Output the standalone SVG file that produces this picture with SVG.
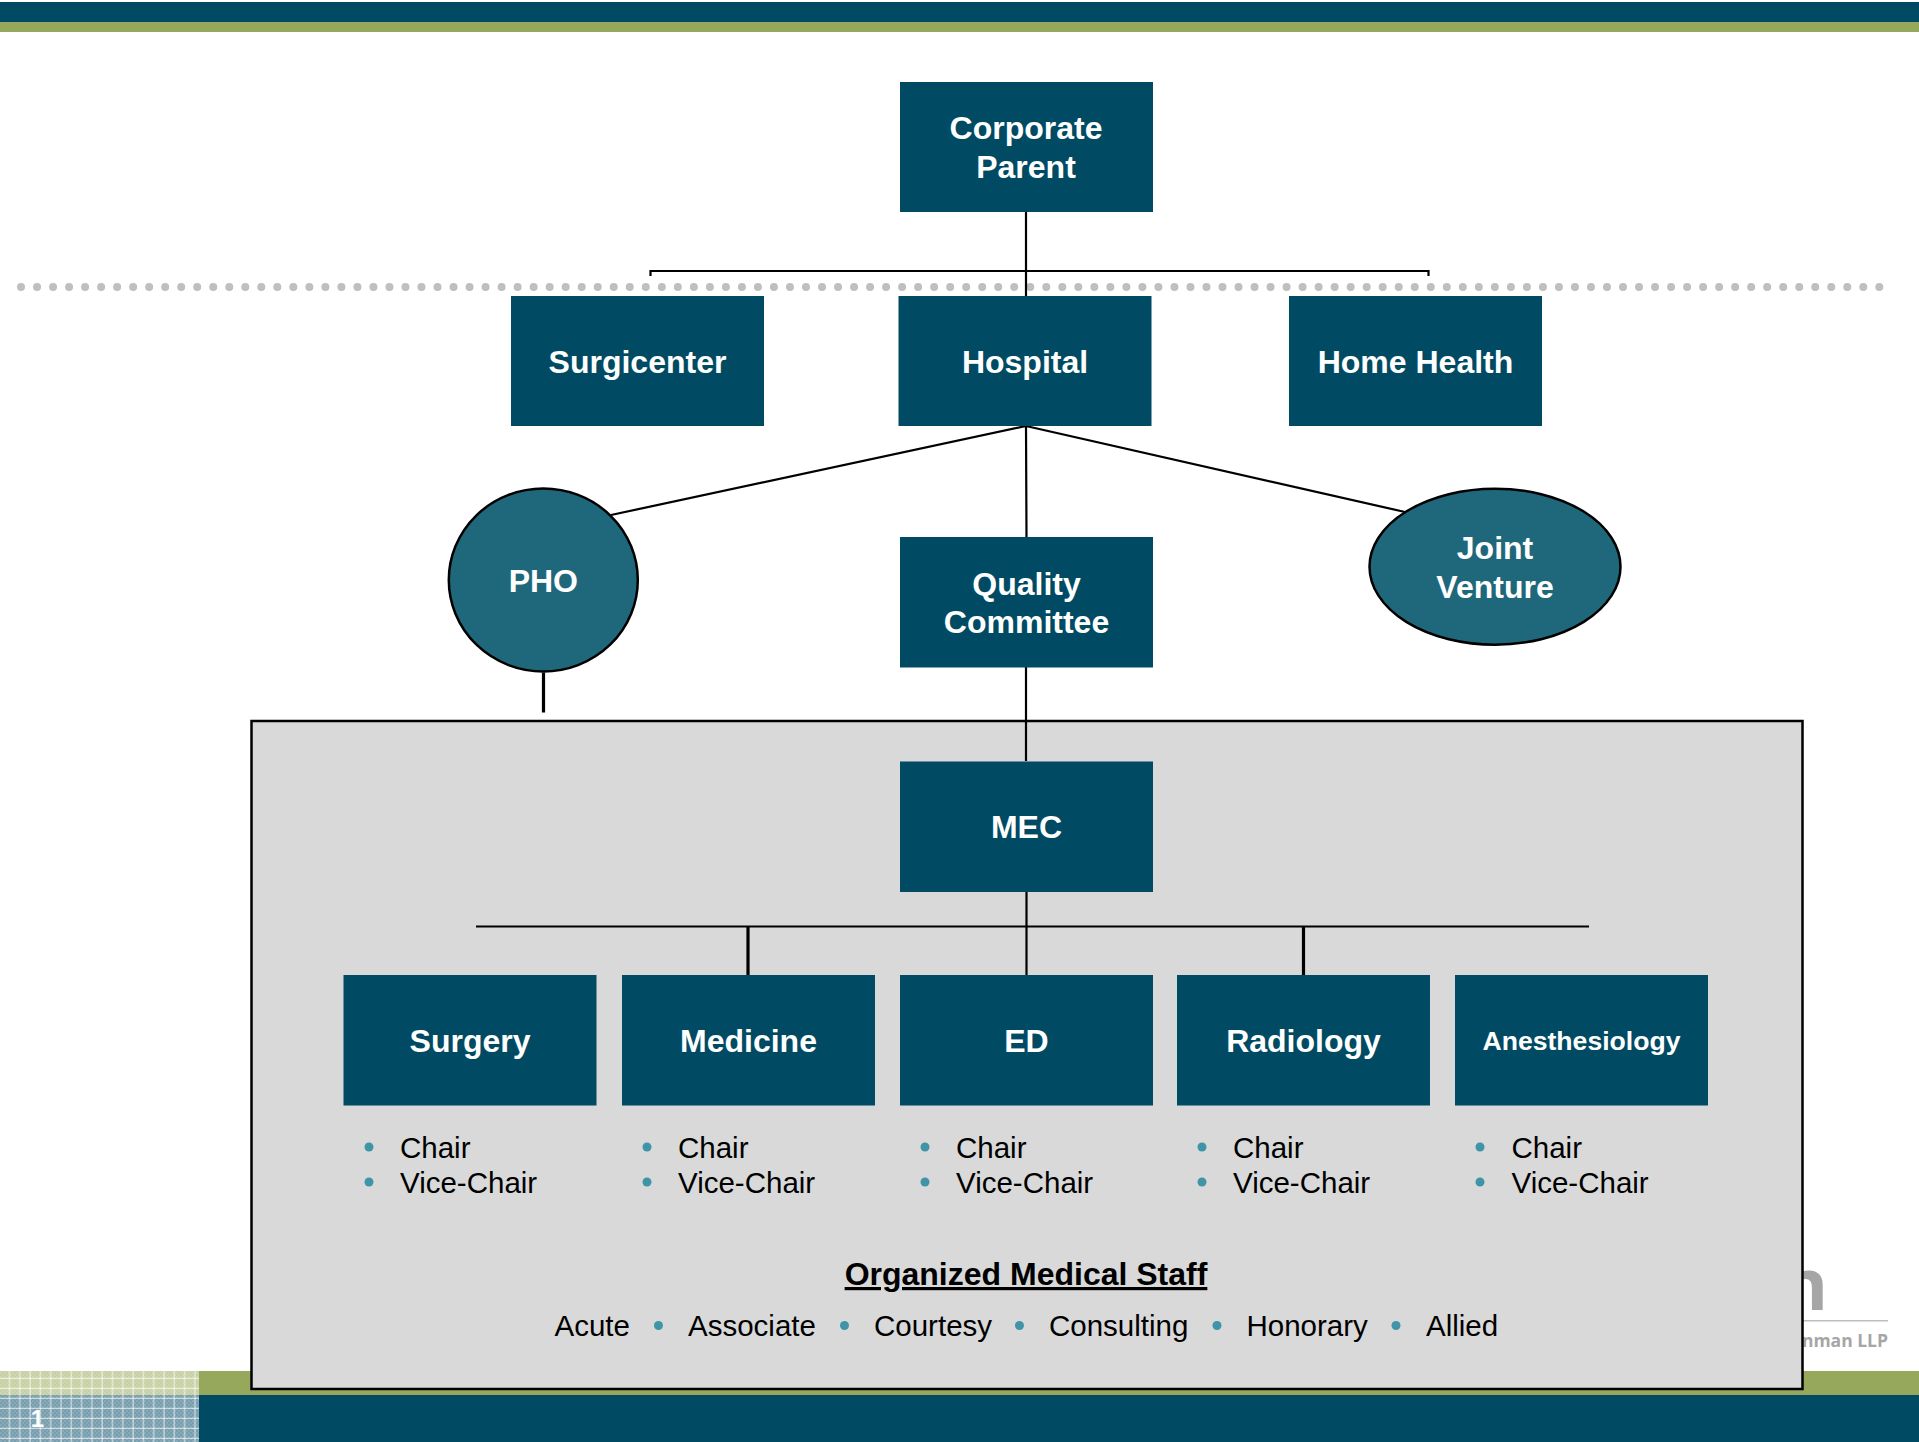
<svg xmlns="http://www.w3.org/2000/svg" width="1919" height="1442" viewBox="0 0 1919 1442">
<defs>
<style>
.n{fill:#004b63}
.o{fill:#1f687c;stroke:#000;stroke-width:2.500px}
.t{font-family:"Liberation Sans",Arial,sans-serif;font-weight:700;font-size:32px;fill:#fff;text-anchor:middle}
.l{font-family:"Liberation Sans",Arial,sans-serif;font-size:29.500px;fill:#000}
.b{fill:#3f94a8}
.c{stroke:#000;stroke-width:2.200px;fill:none}
.s{stroke-width:3.200px}
</style>
<pattern id="grid" width="10.3" height="10" patternUnits="userSpaceOnUse" x="0" y="1369">
<rect x="9" y="0" width="1" height="10" fill="#fff" fill-opacity=".75"/>
<rect x="0" y="8.800" width="10.300" height="1" fill="#fff" fill-opacity=".75"/>
</pattern>
<pattern id="dither" width="4" height="4" patternUnits="userSpaceOnUse">
<rect width="2" height="2" fill="#fff" fill-opacity=".12"/>
<rect x="2" y="2" width="2" height="2" fill="#fff" fill-opacity=".12"/>
</pattern>
</defs>
<rect width="1919" height="1442" fill="#fff"/>
<g id="bands">
<rect y="2" width="1919" height="20" fill="#004b63"/>
<rect y="22" width="1919" height="10" fill="#95a85c"/>
<rect y="1371" width="1919" height="24" fill="#95a85c"/>
<rect y="1395" width="1919" height="47" fill="#004b63"/>
<rect y="1371" width="199" height="24" fill="#c6d0a4"/>
<rect y="1395" width="199" height="47" fill="#789eae"/>
<rect y="1371" width="199" height="71" fill="url(#dither)"/>
<rect y="1371" width="199" height="71" fill="url(#grid)"/>
<text x="37.500" y="1427" font-family="Liberation Sans,Arial,sans-serif" font-weight="700" font-size="24" fill="#fff" text-anchor="middle">1</text>
</g>
<g id="logo">
<text x="1828" y="1310" font-family="Open Sans,Liberation Sans,sans-serif" font-weight="700" font-size="72" fill="#a6a6a6" text-anchor="end">n</text>
<rect x="1800" y="1320" width="88" height="1.500" fill="#bdbdbd"/>
<text x="1888" y="1347" font-family="Open Sans,Liberation Sans,sans-serif" font-weight="700" font-size="17.500" fill="#a6a6a6" text-anchor="end">nman LLP</text>
</g>
<line id="divider" x1="21" y1="287" x2="1885" y2="287" stroke="#bfbfbf" stroke-width="8" stroke-linecap="round" stroke-dasharray="0 16.02"/>
<g id="staff-box">
<rect x="251.500" y="721" width="1551" height="668" fill="#d9d9d9" stroke="#000" stroke-width="2.500"/>
</g>
<g id="connectors">
<path class="c" d="M1026 212V296M650.500 276V271H1428.500V276"/>
<path class="c" d="M1026 426L1026.500 537M1026 426L611 515M1026 426L1405 512"/>
<path class="c" d="M1026 667V761"/>
<path class="c s" d="M543.500 672.500V712.500"/>
<path class="c" d="M476 926.500H1589M1026.500 891V975"/>
<path class="c s" d="M748 926V975M1303.500 926V975"/>
</g>
<g id="corporate-parent"><rect class="n" x="900" y="82" width="253" height="130"/><text class="t" x="1026" y="139">Corporate</text><text class="t" x="1026" y="178">Parent</text></g>
<g id="surgicenter"><rect class="n" x="511" y="296" width="253" height="130"/><text class="t" x="637.500" y="373">Surgicenter</text></g>
<g id="hospital"><rect class="n" x="898.500" y="296" width="253" height="130"/><text class="t" x="1025" y="373">Hospital</text></g>
<g id="home-health"><rect class="n" x="1289" y="296" width="253" height="130"/><text class="t" x="1415.500" y="373">Home Health</text></g>
<g id="pho"><ellipse class="o" cx="543.300" cy="580" rx="94.500" ry="91.500"/><text class="t" x="543.300" y="592">PHO</text></g>
<g id="quality-committee"><rect class="n" x="900" y="537" width="253" height="130.500"/><text class="t" x="1026.500" y="595">Quality</text><text class="t" x="1026.500" y="633">Committee</text></g>
<g id="joint-venture"><ellipse class="o" cx="1495" cy="566.700" rx="125.500" ry="78"/><text class="t" x="1495" y="559">Joint</text><text class="t" x="1495" y="598">Venture</text></g>
<g id="mec"><rect class="n" x="900" y="761.500" width="253" height="130.500"/><text class="t" x="1026.500" y="838">MEC</text></g>
<g id="surgery"><rect class="n" x="343.500" y="975" width="253" height="130.500"/><text class="t" x="470" y="1052">Surgery</text></g>
<g id="medicine"><rect class="n" x="622" y="975" width="253" height="130.500"/><text class="t" x="748.500" y="1052">Medicine</text></g>
<g id="ed"><rect class="n" x="900" y="975" width="253" height="130.500"/><text class="t" x="1026.500" y="1052">ED</text></g>
<g id="radiology"><rect class="n" x="1177" y="975" width="253" height="130.500"/><text class="t" x="1303.500" y="1052">Radiology</text></g>
<g id="anesthesiology"><rect class="n" x="1455" y="975" width="253" height="130.500"/><text class="t" x="1581.500" y="1050" style="font-size:26.600px">Anesthesiology</text></g>
<g id="chairs">
<circle class="b" cx="369" cy="1147" r="4.500"/><circle class="b" cx="369" cy="1182" r="4.500"/><text class="l" x="400" y="1158">Chair</text><text class="l" x="400" y="1193">Vice-Chair</text>
<circle class="b" cx="647" cy="1147" r="4.500"/><circle class="b" cx="647" cy="1182" r="4.500"/><text class="l" x="678" y="1158">Chair</text><text class="l" x="678" y="1193">Vice-Chair</text>
<circle class="b" cx="925" cy="1147" r="4.500"/><circle class="b" cx="925" cy="1182" r="4.500"/><text class="l" x="956" y="1158">Chair</text><text class="l" x="956" y="1193">Vice-Chair</text>
<circle class="b" cx="1202" cy="1147" r="4.500"/><circle class="b" cx="1202" cy="1182" r="4.500"/><text class="l" x="1233" y="1158">Chair</text><text class="l" x="1233" y="1193">Vice-Chair</text>
<circle class="b" cx="1480" cy="1147" r="4.500"/><circle class="b" cx="1480" cy="1182" r="4.500"/><text class="l" x="1511.500" y="1158">Chair</text><text class="l" x="1511.500" y="1193">Vice-Chair</text>
</g>
<g id="staff">
<text x="1026" y="1285" font-family="Liberation Sans,Arial,sans-serif" font-weight="700" font-size="32" text-anchor="middle" text-decoration="underline" fill="#000">Organized Medical Staff</text>
<text class="l" x="554.500" y="1336">Acute</text><circle class="b" cx="658.500" cy="1325.500" r="4.500"/>
<text class="l" x="688" y="1336">Associate</text><circle class="b" cx="844.500" cy="1325.500" r="4.500"/>
<text class="l" x="874" y="1336">Courtesy</text><circle class="b" cx="1019.500" cy="1325.500" r="4.500"/>
<text class="l" x="1049" y="1336">Consulting</text><circle class="b" cx="1217" cy="1325.500" r="4.500"/>
<text class="l" x="1246.500" y="1336">Honorary</text><circle class="b" cx="1396" cy="1325.500" r="4.500"/>
<text class="l" x="1426" y="1336">Allied</text>
</g>
</svg>
